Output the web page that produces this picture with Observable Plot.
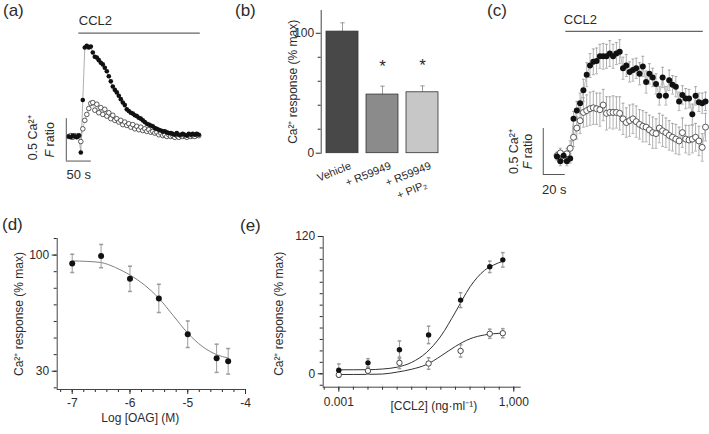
<!DOCTYPE html>
<html><head><meta charset="utf-8">
<script src="https://cdn.jsdelivr.net/npm/d3@7"></script>
<script src="https://cdn.jsdelivr.net/npm/@observablehq/plot@0.6"></script>
<style>
html,body{margin:0;padding:0;background:#fff;}
#fig{position:relative;width:709px;height:434px;overflow:hidden;font-family:"Liberation Sans",Arial,Helvetica,sans-serif;color:#2b2b2b;}
.lab{position:absolute;font-size:17px;line-height:17px;white-space:nowrap;}
</style></head>
<body><div id="fig">
<div class="lab" style="left:3px;top:2px">(a)</div>
<div class="lab" style="left:235px;top:2px">(b)</div>
<div class="lab" style="left:487px;top:2px">(c)</div>
<div class="lab" style="left:2px;top:216px">(d)</div>
<div class="lab" style="left:240px;top:217px">(e)</div>
</div>
<script>
// ---------- DATA ----------
// (a) Ca2+ F ratio traces, sampled every 4 s
const aStep = 4;
const aFilled = [0.00,-0.01,0.01,0.00,-0.01,0.01,-0.19,0.43,1.05,1.07,1.05,1.06,0.99,
  0.94,0.93,0.90,0.87,0.85,0.81,0.77,0.71,0.65,0.59,0.55,0.52,0.48,
  0.44,0.40,0.37,0.32,0.30,0.28,0.27,0.25,0.24,0.22,0.21,0.19,0.17,
  0.15,0.14,0.13,0.12,0.10,0.09,0.08,0.07,0.06,0.06,0.05,0.04,0.04,
  0.03,0.02,0.04,0.02,0.02,0.03,0.02,0.01,0.03,0.02,0.03,0.02,0.03,0.02];
const aOpen = [0.00,0.01,-0.01,0.01,0.00,0.01,-0.06,0.09,0.19,0.26,0.33,0.39,0.40,
  0.31,0.38,0.28,0.34,0.26,0.32,0.24,0.28,0.21,0.25,0.19,0.21,0.17,
  0.19,0.14,0.17,0.13,0.15,0.11,0.14,0.09,0.12,0.08,0.11,0.07,0.09,
  0.06,0.08,0.05,0.06,0.04,0.05,0.02,0.04,0.01,0.02,0.00,0.02,0.00,
  0.01,-0.01,0.01,-0.01,0.01,0.00,0.01,-0.01,0.01,0.00,0.01,0.00,0.02,0.01];
const ccl2A = {start: 20, end: 263, level: 1.22};
const barA = {t0: -5, dt: 50, v0: -0.29, dv: 0.5};

// (b) bar chart
const bGroups = ["Vehicle", "+ R59949", "+ R59949 + PIP₂"];
const bLine1 = ["Vehicle", "+ R59949", "+ R59949"];
const bLine2 = ["", "", "+ PIP₂"];
const bValues = [101.4, 48.9, 50.8];
const bErr = [7.3, 7.0, 5.3];
const bSig = [false, true, true];
const bColors = ["#484848", "#8b8b8b", "#c7c7c7"];
const bTicks = [0, 100];

// (c) Ca2+ F ratio mean ± s.e.m., sampled every 3 s
const cStep = 3;
const cFilled = [0.01,-0.04,0.02,-0.04,-0.01,0.42,0.51,0.59,0.73,0.90,1.00,1.04,1.05,1.10,1.10,
  1.10,1.13,1.10,1.13,1.15,0.97,1.00,0.93,0.95,0.97,0.91,0.99,0.82,0.91,0.87,
  0.80,0.67,0.87,0.67,0.84,0.79,0.77,0.61,0.68,0.64,0.64,0.47,0.67,0.60,0.59,0.61];
const cFilledErr = [0.04,0.05,0.04,0.05,0.05,0.08,0.10,0.11,0.12,0.13,0.13,0.14,0.14,0.13,0.14,
  0.13,0.14,0.13,0.12,0.13,0.12,0.12,0.11,0.12,0.11,0.12,0.11,0.12,0.11,0.10,
  0.11,0.10,0.11,0.10,0.11,0.10,0.11,0.10,0.10,0.11,0.10,0.11,0.10,0.10,0.11,0.10];
const cOpen = [0.02,0.05,0.00,0.04,0.10,0.22,0.32,0.40,0.49,0.51,0.53,0.54,0.53,0.52,0.57,
  0.48,0.49,0.49,0.49,0.48,0.42,0.38,0.40,0.42,0.39,0.36,0.34,0.33,0.30,0.27,
  0.26,0.32,0.29,0.27,0.24,0.22,0.20,0.18,0.27,0.20,0.19,0.20,0.22,0.18,0.11,0.33];
const cOpenErr = [0.04,0.05,0.05,0.06,0.08,0.10,0.12,0.14,0.16,0.17,0.18,0.18,0.17,0.18,0.17,
  0.18,0.17,0.18,0.17,0.18,0.17,0.16,0.17,0.16,0.17,0.16,0.17,0.16,0.16,0.17,
  0.16,0.16,0.17,0.16,0.16,0.15,0.16,0.15,0.16,0.15,0.16,0.15,0.15,0.16,0.15,0.15];
const ccl2C = {start: 8, end: 133, level: 1.37};
const barC = {t0: -12.5, dt: 20, v0: -0.185, dv: 0.5};

// (d) OAG concentration–response
const dLogOAG = [-7, -6.5, -6, -5.5, -5, -4.5, -4.3];
const dResp = [95, 99.4, 85.7, 73.9, 52.3, 37.8, 36];
const dErr = [5.5, 7, 7.6, 8.5, 8, 8.5, 7.7];
const dFitX = [-7, -6.75, -6.5, -6.25, -6, -5.75, -5.5, -5.25, -5, -4.75, -4.5, -4.3];
const dFitY = [96.5, 96.2, 95.5, 92.5, 88, 82, 74, 63.5, 53, 45, 40, 38];
const dTicksX = [-7, -6, -5, -4];
const dTicksY = [30, 100];

// (e) CCL2 concentration–response
const eConc = [0.001, 0.01, 0.12, 1.2, 15, 150, 420];
const eFilled = [3.2, 9.6, 21, 34, 64.4, 93.5, 99.6];
const eFilledErr = [5.4, 3.6, 7.7, 7.6, 6.5, 5, 6.3];
const eOpen = [-0.9, 2.6, 9.6, 9, 20, 35, 35.5];
const eOpenErr = [2, 3, 5, 5, 5.4, 4, 4];
const eFitConc = [0.001, 0.01, 0.0316, 0.1, 0.316, 1, 3.16, 10, 31.6, 100, 200, 420];
const eFitFilled = [3.5, 3.6, 4.2, 5.8, 10, 18.5, 33, 54, 76, 90.5, 95, 98.4];
const eFitOpen = [-0.6, -0.5, -0.2, 1.5, 4, 8, 15.5, 24, 30.6, 34, 35, 35.5];
const eTicksX = [0.001, 1000];
const eTickLabels = ["0.001", "1,000"];
const eMinorX = [0.000316, 0.001, 0.00316, 0.01, 0.0316, 0.1, 0.316, 1, 3.16, 10, 31.6, 100, 316, 1000];
const eTicksY = [0, 120];

// ---------- DRAWING ----------
const fig = document.getElementById("fig");
const FONT = '"Liberation Sans", Arial, Helvetica, sans-serif';
const INK = "#2b2b2b";
const ERR = "#9c9c9c";
const style = {background: "transparent", fontFamily: FONT, fontSize: "12px", color: INK, overflow: "visible"};
const capSym = {draw(ctx, size) { const r = Math.sqrt(size / Math.PI); ctx.moveTo(-r, 0); ctx.lineTo(r, 0); }};

function italicF(svg) {
  svg.querySelectorAll("text").forEach(el => {
    if (el.textContent === "F ratio") {
      el.textContent = "";
      const ns = "http://www.w3.org/2000/svg";
      const t1 = document.createElementNS(ns, "tspan");
      t1.setAttribute("font-style", "italic");
      t1.textContent = "F";
      const t2 = document.createElementNS(ns, "tspan");
      t2.textContent = " ratio";
      el.appendChild(t1); el.appendChild(t2);
    }
  });
}
function place(svg, left, top) {
  svg.style.position = "absolute";
  svg.style.left = left + "px";
  svg.style.top = top + "px";
  svg.style.maxWidth = "none";
  italicF(svg);
  fig.appendChild(svg);
}

// (a)
const aData = aFilled.map((f, i) => ({t: i * aStep, f, o: aOpen[i]}));
place(Plot.plot({
  width: 215, height: 200, marginLeft: 68.3, marginRight: 16.7, marginTop: 8.8, marginBottom: 38.6,
  style, x: {domain: [0, 260], axis: null}, y: {domain: [-0.3, 1.5], axis: null},
  marks: [
    Plot.lineY(aData, {x: "t", y: "o", stroke: "#b0b0b0", strokeWidth: 0.7}),
    Plot.lineY(aData, {x: "t", y: "f", stroke: "#999", strokeWidth: 0.8}),
    Plot.dot(aData, {x: "t", y: "o", r: 2.3, fill: "white", stroke: "#333", strokeWidth: 0.8}),
    Plot.dot(aData, {x: "t", y: "f", r: 2.3, fill: "#111"}),
    Plot.ruleY([ccl2A.level], {x1: ccl2A.start, x2: ccl2A.end, stroke: "#666", strokeWidth: 1.2}),
    Plot.text(["CCL2"], {x: ccl2A.start, y: ccl2A.level, textAnchor: "start", dy: -12, fontSize: 13, fill: INK}),
    Plot.ruleX([barA.t0], {y1: barA.v0, y2: barA.v0 + barA.dv, stroke: "#555"}),
    Plot.ruleY([barA.v0], {x1: barA.t0, x2: barA.t0 + barA.dt, stroke: "#555"}),
    Plot.text(["50 s"], {x: barA.t0 + barA.dt / 2, y: barA.v0, dy: 14, fontSize: 13, fill: INK}),
    Plot.text(["0.5 Ca²⁺"], {x: barA.t0, y: barA.v0 + barA.dv / 2, rotate: -90, dx: -33, dy: -2, fontSize: 12.5, fill: INK}),
    Plot.text(["F ratio"], {x: barA.t0, y: barA.v0 + barA.dv / 2, rotate: -90, dx: -16, fontSize: 12.5, fill: INK})
  ]
}), 0, 0);

// (b)
const bData = bGroups.map((g, i) => ({g, v: bValues[i], e: bErr[i], l1: bLine1[i], l2: bLine2[i], sig: bSig[i]}));
place(Plot.plot({
  width: 200, height: 200, marginLeft: 60.7, marginRight: 16.7, marginTop: 10, marginBottom: 47.3,
  style,
  x: {domain: bGroups, paddingInner: 0.2, paddingOuter: 0.13, axis: null},
  y: {domain: [0, 119], axis: null},
  color: {domain: bGroups, range: bColors},
  marks: [
    Plot.axisY({ticks: [20, 40, 60, 80], tickSize: 3, tickFormat: () => "", label: null}),
    Plot.axisY({ticks: bTicks, tickSize: 5, tickPadding: 2, label: null, fontSize: 12}),
    Plot.frame({anchor: "left", stroke: "#444"}),
    Plot.ruleX(bData, {x: "g", y1: "v", y2: d => d.v + d.e, stroke: ERR, strokeWidth: 1}),
    Plot.dot(bData, {x: "g", y: d => d.v + d.e, symbol: capSym, r: 2.2, fill: "none", stroke: ERR, strokeWidth: 1}),
    Plot.barY(bData, {x: "g", y: "v", fill: "g", stroke: "#333", strokeWidth: 0.8}),
    Plot.text(bData.filter(d => d.sig), {x: "g", y: d => d.v + d.e, text: () => "*", dy: -20, fontSize: 17, fill: INK}),
    Plot.text(bData, {x: "g", y: 0, text: "l1", rotate: -22, textAnchor: "end", dx: 8, dy: 12, fontSize: 11, fill: INK}),
    Plot.text(bData, {x: "g", y: 0, text: "l2", rotate: -22, textAnchor: "end", dx: 4, dy: 31, fontSize: 11, fill: INK}),
    Plot.text(["Ca²⁺ response (% max)"], {frameAnchor: "left", textAnchor: "middle", dx: -27.7, rotate: -90, fontSize: 12, fill: INK})
  ]
}), 260, 0);

// (c)
const cData = cFilled.map((f, i) => ({t: i * cStep, f, fe: cFilledErr[i], o: cOpen[i], oe: cOpenErr[i]}));
place(Plot.plot({
  width: 209, height: 200, marginLeft: 56.5, marginRight: 4, marginTop: 9.8, marginBottom: 15.4,
  style, x: {domain: [0, 135], axis: null}, y: {domain: [-0.3, 1.6], axis: null},
  marks: [
    Plot.ruleX(cData, {x: "t", y1: d => d.o - d.oe, y2: d => d.o + d.oe, stroke: ERR, strokeWidth: 0.8}),
    Plot.dot(cData, {x: "t", y: d => d.o - d.oe, symbol: capSym, r: 1.5, fill: "none", stroke: ERR, strokeWidth: 0.8}),
    Plot.dot(cData, {x: "t", y: d => d.o + d.oe, symbol: capSym, r: 1.5, fill: "none", stroke: ERR, strokeWidth: 0.8}),
    Plot.ruleX(cData, {x: "t", y1: d => d.f - d.fe, y2: d => d.f + d.fe, stroke: ERR, strokeWidth: 0.8}),
    Plot.dot(cData, {x: "t", y: d => d.f - d.fe, symbol: capSym, r: 1.5, fill: "none", stroke: ERR, strokeWidth: 0.8}),
    Plot.dot(cData, {x: "t", y: d => d.f + d.fe, symbol: capSym, r: 1.5, fill: "none", stroke: ERR, strokeWidth: 0.8}),
    Plot.lineY(cData, {x: "t", y: "o", stroke: "#aaa", strokeWidth: 0.8}),
    Plot.lineY(cData, {x: "t", y: "f", stroke: "#aaa", strokeWidth: 0.8}),
    Plot.dot(cData, {x: "t", y: "o", r: 3, fill: "white", stroke: "#333", strokeWidth: 0.8}),
    Plot.dot(cData, {x: "t", y: "f", r: 3, fill: "#111"}),
    Plot.ruleY([ccl2C.level], {x1: ccl2C.start, x2: ccl2C.end, stroke: "#666", strokeWidth: 1.2}),
    Plot.text(["CCL2"], {x: ccl2C.start, y: ccl2C.level, textAnchor: "start", dx: -2, dy: -12, fontSize: 13, fill: INK}),
    Plot.ruleX([barC.t0], {y1: barC.v0, y2: barC.v0 + barC.dv, stroke: "#555"}),
    Plot.ruleY([barC.v0], {x1: barC.t0, x2: barC.t0 + barC.dt, stroke: "#555"}),
    Plot.text(["20 s"], {x: barC.t0 + barC.dt / 2, y: barC.v0, dy: 15, fontSize: 13, fill: INK}),
    Plot.text(["0.5 Ca²⁺"], {x: barC.t0, y: barC.v0 + barC.dv / 2, rotate: -90, dx: -29, fontSize: 12.5, fill: INK}),
    Plot.text(["F ratio"], {x: barC.t0, y: barC.v0 + barC.dv / 2, rotate: -90, dx: -15.5, fontSize: 12.5, fill: INK})
  ]
}), 500, 0);

// (d)
const dData = dLogOAG.map((x, i) => ({x, y: dResp[i], e: dErr[i]}));
const dFit = dFitX.map((x, i) => ({x, y: dFitY[i]}));
place(Plot.plot({
  width: 260, height: 234, marginLeft: 56.7, marginRight: 15, marginTop: 38, marginBottom: 45,
  style, x: {domain: [-7.26, -4], axis: null}, y: {domain: [19, 110], axis: null},
  marks: [
    Plot.axisY({ticks: d3.range(20, 111, 10), tickSize: 3, tickFormat: () => "", label: null}),
    Plot.axisY({ticks: dTicksY, tickSize: 5, tickPadding: 3, label: null, fontSize: 12}),
    Plot.axisX({ticks: d3.range(-7.2, -3.99, 0.2), tickSize: 3, tickFormat: () => "", label: null}),
    Plot.axisX({ticks: dTicksX, tickSize: 5, tickPadding: 4, tickFormat: d => String(d), label: null, fontSize: 12}),
    Plot.ruleX([-7.26], {stroke: "#444"}),
    Plot.ruleY([19], {stroke: "#444"}),
    Plot.line(dFit, {x: "x", y: "y", curve: "monotone-x", stroke: "#808080", strokeWidth: 1}),
    Plot.ruleX(dData, {x: "x", y1: d => d.y - d.e, y2: d => d.y + d.e, stroke: ERR, strokeWidth: 1}),
    Plot.dot(dData, {x: "x", y: d => d.y - d.e, symbol: capSym, r: 2, fill: "none", stroke: ERR}),
    Plot.dot(dData, {x: "x", y: d => d.y + d.e, symbol: capSym, r: 2, fill: "none", stroke: ERR}),
    Plot.dot(dData, {x: "x", y: "y", r: 3, fill: "#111"}),
    Plot.text(["Log [OAG] (M)"], {frameAnchor: "bottom", textAnchor: "middle", dx: -11, dy: 32, fontSize: 12, fill: INK}),
    Plot.text(["Ca²⁺ response (% max)"], {frameAnchor: "left", textAnchor: "middle", dx: -37.7, rotate: -90, fontSize: 12, fill: INK})
  ]
}), 0, 200);

// (e)
const eData = eConc.map((c, i) => ({c, f: eFilled[i], fe: eFilledErr[i], o: eOpen[i], oe: eOpenErr[i]}));
const eFit = eFitConc.map((c, i) => ({c, f: eFitFilled[i], o: eFitOpen[i]}));
place(Plot.plot({
  width: 449, height: 234, marginLeft: 62.7, marginRight: 188.3, marginTop: 36, marginBottom: 47.3,
  style, x: {type: "log", domain: [0.0002917, 1795], axis: null}, y: {domain: [-11.7, 120], axis: null},
  marks: [
    Plot.axisY({ticks: d3.range(-10, 121, 10), tickSize: 3, tickFormat: () => "", label: null}),
    Plot.axisY({ticks: eTicksY, tickSize: 5, tickPadding: 3, label: null, fontSize: 12}),
    Plot.axisX({ticks: eMinorX, tickSize: 3, tickFormat: () => "", label: null}),
    Plot.axisX({ticks: eTicksX, tickSize: 5, tickPadding: 5, tickFormat: d => eTickLabels[eTicksX.indexOf(d)], label: null, fontSize: 12}),
    Plot.ruleX([0.0002917], {stroke: "#444"}),
    Plot.ruleY([-11.7], {stroke: "#444"}),
    Plot.line(eFit, {x: "c", y: "f", curve: "monotone-x", stroke: "#333", strokeWidth: 1}),
    Plot.line(eFit, {x: "c", y: "o", curve: "monotone-x", stroke: "#333", strokeWidth: 1}),
    Plot.ruleX(eData, {x: "c", y1: d => d.f - d.fe, y2: d => d.f + d.fe, stroke: ERR}),
    Plot.dot(eData, {x: "c", y: d => d.f - d.fe, symbol: capSym, r: 1.8, fill: "none", stroke: ERR}),
    Plot.dot(eData, {x: "c", y: d => d.f + d.fe, symbol: capSym, r: 1.8, fill: "none", stroke: ERR}),
    Plot.ruleX(eData, {x: "c", y1: d => d.o - d.oe, y2: d => d.o + d.oe, stroke: ERR}),
    Plot.dot(eData, {x: "c", y: d => d.o - d.oe, symbol: capSym, r: 1.8, fill: "none", stroke: ERR}),
    Plot.dot(eData, {x: "c", y: d => d.o + d.oe, symbol: capSym, r: 1.8, fill: "none", stroke: ERR}),
    Plot.dot(eData, {x: "c", y: "o", r: 2.7, fill: "white", stroke: "#333", strokeWidth: 0.9}),
    Plot.dot(eData, {x: "c", y: "f", r: 2.7, fill: "#111"}),
    Plot.text(["[CCL2] (ng·ml⁻¹)"], {frameAnchor: "bottom", textAnchor: "middle", dx: 11.6, dy: 23, fontSize: 12, fill: INK}),
    Plot.text(["Ca²⁺ response (% max)"], {frameAnchor: "left", textAnchor: "middle", dx: -43.7, dy: 2, rotate: -90, fontSize: 12, fill: INK})
  ]
}), 260, 200);
</script>
</body></html>
